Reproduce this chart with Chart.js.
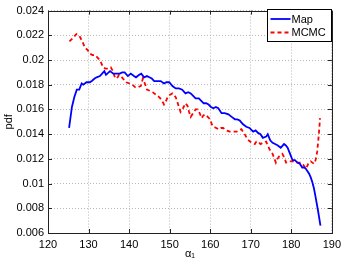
<!DOCTYPE html>
<html>
<head>
<meta charset="utf-8">
<script src="https://cdn.jsdelivr.net/npm/chart.js@4/dist/chart.umd.min.js"></script>
<style>
  html, body { margin: 0; padding: 0; background: #fff; }
  #wrap { width: 346px; height: 264px; }
</style>
</head>
<body>
<div id="wrap"><canvas id="c" width="346" height="264"></canvas></div>
<script>
// axis ticks
const xTicks = [120, 130, 140, 150, 160, 170, 180, 190];
const yTicks = [0.006, 0.008, 0.01, 0.012, 0.014, 0.016, 0.018, 0.02, 0.022, 0.024];

// Map curve
const mapAlpha = [125.2, 125.9, 126.5, 127.1, 127.7, 128.3, 128.7, 129.5, 130.3, 130.8, 131.5, 132.0, 132.8,
  133.9, 134.3, 135.3, 136.1, 136.9, 137.7, 138.3, 138.9, 139.7, 140.4, 141.2, 141.7, 142.5, 143.0, 143.7,
  144.4, 145.0, 145.6, 146.2, 147.0, 147.8, 148.6, 149.2, 149.9, 150.7, 151.5, 152.3, 153.1, 153.9, 154.6,
  155.2, 155.8, 156.4, 157.2, 157.8, 158.4, 159.0, 159.6, 160.2, 160.8, 161.4, 162.0, 162.8, 163.6, 164.5,
  165.3, 166.1, 166.7, 167.3, 168.1, 168.9, 169.7, 170.6, 171.2, 171.8, 172.4, 173.0, 173.8, 174.2, 174.8,
  175.4, 176.0, 176.6, 177.4, 178.2, 178.6, 179.1, 179.7, 180.3, 180.9, 181.5, 182.1, 182.7, 183.2, 183.6,
  184.0, 184.4, 184.8, 185.2, 185.6, 186.0, 186.6, 187.2];
const mapPdf = [0.0145, 0.0162, 0.0170, 0.0176, 0.0176, 0.0181, 0.0180, 0.0182, 0.0182, 0.0183, 0.0185, 0.0186, 0.0187,
  0.0191, 0.0188, 0.0191, 0.0189, 0.0189, 0.0189, 0.0190, 0.0190, 0.0187, 0.0189, 0.0187, 0.0186, 0.0188, 0.0189, 0.0186,
  0.0187, 0.0186, 0.0185, 0.0183, 0.0183, 0.0183, 0.0181, 0.0182, 0.0182, 0.0179, 0.0177, 0.0177, 0.0176, 0.0173, 0.0174,
  0.0173, 0.0171, 0.0169, 0.0169, 0.0167, 0.0165, 0.0165, 0.0164, 0.0162, 0.0161, 0.0162, 0.0161, 0.0157, 0.0157, 0.0156,
  0.0154, 0.0152, 0.0152, 0.0151, 0.0148, 0.0146, 0.0145, 0.0142, 0.0143, 0.0141, 0.0140, 0.0137, 0.0138, 0.0140, 0.0135,
  0.0133, 0.0132, 0.0131, 0.0129, 0.0132, 0.0131, 0.0129, 0.0124, 0.0119, 0.0119, 0.0117, 0.0116, 0.0113, 0.0113, 0.0112,
  0.0110, 0.0108, 0.0105, 0.0101, 0.0096, 0.0089, 0.0078, 0.0066];

// MCMC curve
const mcmcAlpha = [125.3, 126.2, 127.0, 127.6, 128.0, 128.6, 129.1, 129.8, 130.4, 131.0, 131.6, 132.2, 132.8, 133.2,
  133.6, 134.2, 134.9, 135.5, 136.0, 136.5, 137.0, 137.5, 138.0, 138.5, 139.3, 140.1, 140.8, 141.5, 142.2, 142.9,
  143.4, 144.0, 144.4, 145.2, 145.8, 146.6, 147.4, 148.0, 148.6, 149.0, 149.5, 150.1, 150.7, 151.5, 152.1, 152.7,
  153.3, 153.9, 154.4, 154.8, 155.2, 155.8, 156.4, 156.9, 157.4, 157.9, 158.3, 158.7, 159.4, 160.0, 160.4, 160.8,
  161.5, 162.0, 162.6, 163.2, 164.0, 164.9, 165.7, 166.5, 167.1, 167.7, 168.1, 168.5, 169.2, 169.8, 170.4, 171.0,
  171.4, 171.8, 172.4, 173.0, 173.8, 174.2, 174.6, 175.4, 176.2, 176.6, 177.0, 177.8, 178.3, 178.7, 179.3, 179.9,
  180.7, 181.5, 182.3, 183.0, 183.6, 184.2, 184.8, 185.6, 186.0, 186.4, 186.8, 187.1];
const mcmcPdf = [0.0215, 0.0218, 0.0221, 0.0220, 0.0218, 0.0214, 0.0210, 0.0208, 0.0205, 0.0204, 0.0204, 0.0202, 0.0200, 0.0197,
  0.0194, 0.0193, 0.0193, 0.0194, 0.0191, 0.0186, 0.0185, 0.0188, 0.0187, 0.0185, 0.0182, 0.0181, 0.0180, 0.0178, 0.0178, 0.0179,
  0.0185, 0.0180, 0.0176, 0.0175, 0.0174, 0.0172, 0.0170, 0.0168, 0.0164, 0.0166, 0.0170, 0.0172, 0.0173, 0.0170, 0.0164, 0.0158,
  0.0161, 0.0165, 0.0163, 0.0158, 0.0154, 0.0157, 0.0160, 0.0160, 0.0157, 0.0153, 0.0155, 0.0156, 0.0154, 0.0152, 0.0148, 0.0146,
  0.0145, 0.0144, 0.0145, 0.0145, 0.0143, 0.0142, 0.0142, 0.0142, 0.0143, 0.0144, 0.0142, 0.0140, 0.0136, 0.0134, 0.0133, 0.0132,
  0.0134, 0.0134, 0.0132, 0.0133, 0.0134, 0.0131, 0.0128, 0.0124, 0.0117, 0.0120, 0.0122, 0.0124, 0.0121, 0.0117, 0.0118, 0.0118,
  0.0118, 0.0117, 0.0117, 0.0115, 0.0112, 0.0116, 0.0118, 0.0116, 0.0119, 0.0126, 0.0140, 0.0153];

const FONT = "'Liberation Sans', Arial, Helvetica, sans-serif";

const toPoints = (xs, ys) => xs.map((x, i) => ({ x: x, y: ys[i] }));
const fmt = (v) => parseFloat(v.toFixed(3)).toString();

// matlab-ish frame, inward ticks and boxed legend
const matlabAxes = {
  id: "matlabAxes",
  afterDraw(chart) {
    const { ctx, chartArea: a, scales } = chart;
    ctx.save();
    ctx.strokeStyle = "#222";
    ctx.lineWidth = 1;
    ctx.beginPath();
    xTicks.forEach((t) => {
      const px = Math.round(scales.x.getPixelForValue(t)) + 0.5;
      ctx.moveTo(px, a.bottom); ctx.lineTo(px, a.bottom - 4);
      ctx.moveTo(px, a.top); ctx.lineTo(px, a.top + 4);
    });
    yTicks.forEach((t) => {
      const py = Math.round(scales.y.getPixelForValue(t)) + 0.5;
      ctx.moveTo(a.left, py); ctx.lineTo(a.left + 4, py);
      ctx.moveTo(a.right, py); ctx.lineTo(a.right - 4, py);
    });
    ctx.stroke();
    ctx.strokeRect(Math.round(a.left) + 0.5, Math.round(a.top) + 0.5,
      Math.round(a.right - a.left), Math.round(a.bottom - a.top));

    // legend box
    const bx = 267.5, by = 9.5, bw = 64, bh = 32;
    ctx.fillStyle = "#fff";
    ctx.fillRect(bx, by, bw, bh);
    ctx.strokeStyle = "#000";
    ctx.strokeRect(bx, by, bw, bh);
    ctx.font = "11px " + FONT;
    ctx.textBaseline = "middle";
    ctx.textAlign = "left";
    chart.data.datasets.forEach((ds, i) => {
      const y = by + 9.5 + i * 13.5;
      ctx.strokeStyle = ds.borderColor;
      ctx.lineWidth = ds.borderWidth;
      ctx.setLineDash(ds.borderDash || []);
      ctx.beginPath();
      ctx.moveTo(bx + 3, y); ctx.lineTo(bx + 23, y);
      ctx.stroke();
      ctx.setLineDash([]);
      ctx.fillStyle = "#000";
      ctx.fillText(ds.label, bx + 24, y + 0.5);
    });
    ctx.restore();
  },
};

new Chart(document.getElementById("c"), {
  type: "line",
  data: {
    datasets: [
      {
        label: "Map",
        data: toPoints(mapAlpha, mapPdf),
        borderColor: "#0000ff",
        borderWidth: 1.8,
        pointRadius: 0,
        tension: 0,
      },
      {
        label: "MCMC",
        data: toPoints(mcmcAlpha, mcmcPdf),
        borderColor: "#ff0000",
        borderWidth: 1.8,
        borderDash: [4, 3],
        pointRadius: 0,
        tension: 0,
      },
    ],
  },
  options: {
    responsive: false,
    animation: false,
    events: [],
    layout: { padding: { top: 8, right: 12, left: 0, bottom: 0 } },
    plugins: { legend: { display: false }, tooltip: { enabled: false } },
    scales: {
      x: {
        type: "linear",
        min: 120,
        max: 190,
        afterBuildTicks: (s) => { s.ticks = xTicks.map((v) => ({ value: v })); },
        afterFit: (s) => { s.height = 31; },
        ticks: { color: "#000", padding: 5, font: { family: FONT, size: 11 }, callback: (v) => String(v) },
        grid: { color: "#b8b8b8", drawTicks: false, lineWidth: 1 },
        border: { display: false, dash: [1, 2] },
        title: { display: true, text: "α₁", color: "#000", font: { family: FONT, size: 11 }, padding: { top: 0, bottom: 3 } },
      },
      y: {
        type: "linear",
        min: 0.006,
        max: 0.024,
        afterBuildTicks: (s) => { s.ticks = yTicks.map((v) => ({ value: v })); },
        afterFit: (s) => { s.width = 48; },
        ticks: { color: "#000", padding: 4, font: { family: FONT, size: 11 }, callback: (v) => fmt(v) },
        grid: { color: "#b8b8b8", drawTicks: false, lineWidth: 1 },
        border: { display: false, dash: [1, 2] },
        title: { display: true, text: "pdf", color: "#000", font: { family: FONT, size: 11 }, padding: { top: 2, bottom: 0 } },
      },
    },
  },
  plugins: [matlabAxes],
});
</script>
</body>
</html>
